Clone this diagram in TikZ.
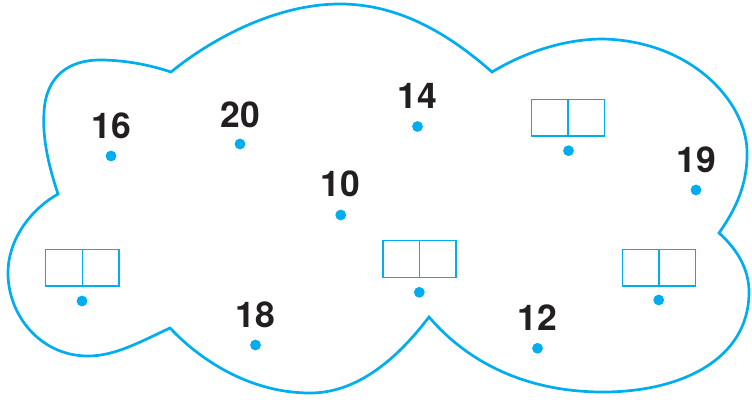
\documentclass[tikz,border=0pt]{standalone}
\usepackage{fontspec}
\setmainfont{TeX Gyre Heros}
\definecolor{cyanline}{HTML}{00AEEF}
\definecolor{numcol}{HTML}{231F20}
\tikzset{
  dotnode/.style={circle, fill=cyanline, inner sep=0pt, minimum size=10.8pt},
  numlabel/.style={font=\fontsize{35.5}{40}\selectfont\bfseries, text=numcol, anchor=base, inner sep=0pt},
  cellbox/.style={draw=cyanline, line width=1.4pt, minimum width=36.6pt, minimum height=36.6pt, inner sep=0pt},
  cloudline/.style={draw=cyanline, line width=2.7pt, line join=miter}
}
\begin{document}
\begin{tikzpicture}[x=1pt,y=-1pt]
\useasboundingbox (0,0) rectangle (752,399);
% cloud outline
\draw[cloudline]
  (58,194) .. controls (50,170) and (42,140) .. (44,112)
  .. controls (46,75) and (70,60) .. (100,60)
  .. controls (125,60) and (150,65) .. (171,72)
  .. controls (210,40) and (275,4) .. (340,4)
  .. controls (400,4) and (450,35) .. (492,72)
  .. controls (525,52) and (565,39) .. (603,39)
  .. controls (690,41) and (745,100) .. (747,150)
  .. controls (748,185) and (735,210) .. (719,233)
  .. controls (738,250) and (749,270) .. (749,292)
  .. controls (749,360) and (680,392) .. (603,392)
  .. controls (530,392) and (470,365) .. (429,317)
  .. controls (400,355) and (360,393) .. (310,393)
  .. controls (255,393) and (205,365) .. (170,328)
  .. controls (140,342) and (115,356) .. (88,356)
  .. controls (40,356) and (8,315) .. (8,273)
  .. controls (8,240) and (30,210) .. (58,194) -- cycle;
% numbered dots
\node[dotnode] (d16) at (111,156) {};
\node[numlabel] (l16) at (111,138) {16};
\node[dotnode] (d20) at (240,144) {};
\node[numlabel] (l20) at (240,127) {20};
\node[dotnode] (d14) at (417.5,126.5) {};
\node[numlabel] (l14) at (417.5,108) {14};
\node[dotnode] (d19) at (696,190) {};
\node[numlabel] (l19) at (696,172) {19};
\node[dotnode] (d10) at (340.7,215) {};
\node[numlabel] (l10) at (340.7,196.5) {10};
\node[dotnode] (d18) at (255.5,345) {};
\node[numlabel] (l18) at (255.5,327) {18};
\node[dotnode] (d12) at (537.5,348.3) {};
\node[numlabel] (l12) at (537.5,330) {12};
% dots with empty boxes
\node[dotnode] (dA) at (568.5,150.7) {};
\node[cellbox] (bA1) at (549.8,117.7) {};
\node[cellbox] (bA2) at (586.4,117.7) {};
\node[dotnode] (dB) at (82,301) {};
\node[cellbox] (bB1) at (64,267.7) {};
\node[cellbox] (bB2) at (100.6,267.7) {};
\node[dotnode] (dC) at (419.3,292.3) {};
\node[cellbox] (bC1) at (401.2,259) {};
\node[cellbox] (bC2) at (437.8,259) {};
\node[dotnode] (dD) at (658.7,300) {};
\node[cellbox] (bD1) at (640.5,267.7) {};
\node[cellbox] (bD2) at (677.1,267.7) {};
\end{tikzpicture}
\end{document}
